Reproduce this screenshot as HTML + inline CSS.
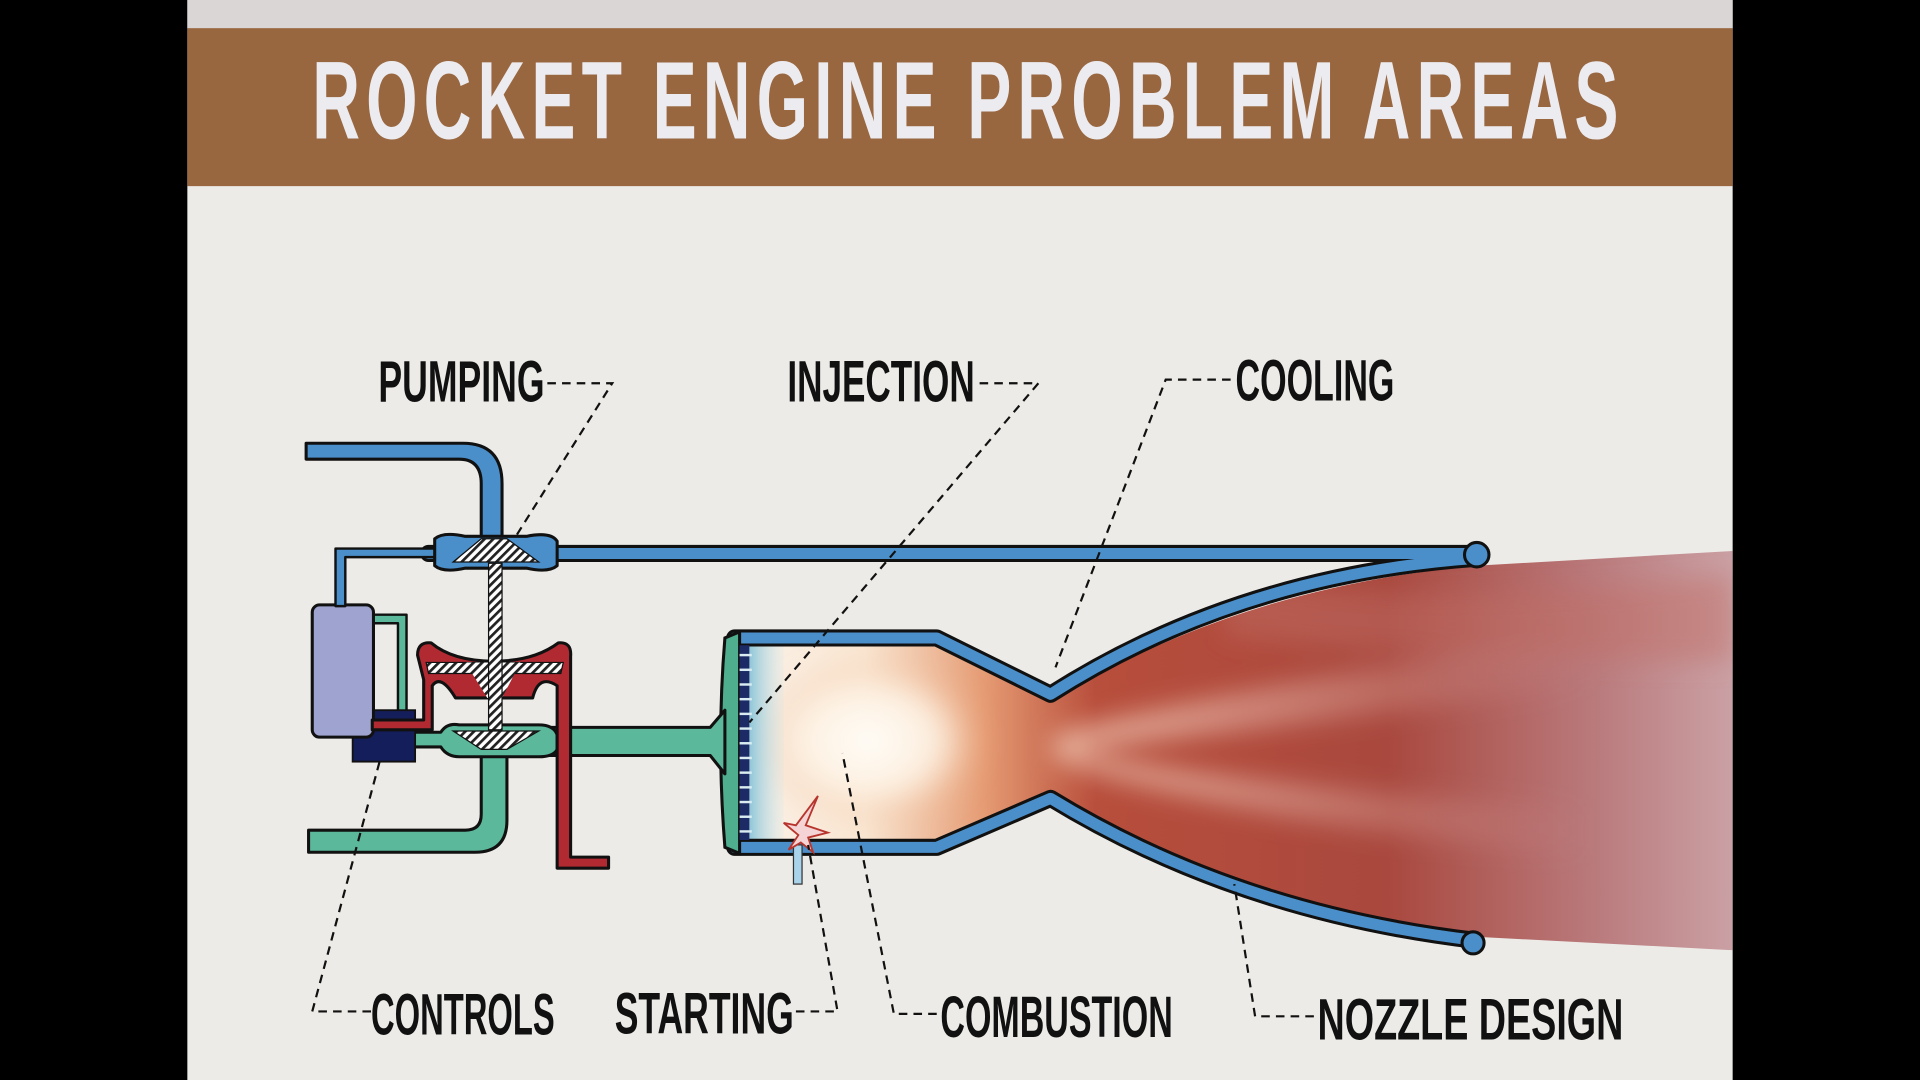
<!DOCTYPE html>
<html><head><meta charset="utf-8"><style>
html,body{margin:0;padding:0;background:#000;}
svg{display:block}
</style></head><body>
<svg width="1920" height="1080" viewBox="0 0 1568 882" xmlns="http://www.w3.org/2000/svg">
<defs>
<linearGradient id="plume" x1="0" y1="0" x2="1" y2="0">
<stop offset="0" stop-color="#fbf3ea"/>
<stop offset="0.13" stop-color="#f9e6d2"/>
<stop offset="0.25" stop-color="#e59a72"/>
<stop offset="0.36" stop-color="#b84e3c"/>
<stop offset="0.65" stop-color="#a9483e"/>
<stop offset="0.85" stop-color="#b9787a"/>
<stop offset="1" stop-color="#cba2a6"/>
</linearGradient>
<radialGradient id="core" cx="0.5" cy="0.5" r="0.5">
<stop offset="0" stop-color="#fffdf8" stop-opacity="1"/>
<stop offset="0.6" stop-color="#fdf1e2" stop-opacity="0.9"/>
<stop offset="1" stop-color="#f0b58c" stop-opacity="0"/>
</radialGradient>
<linearGradient id="streak" x1="0" y1="0" x2="1" y2="0">
<stop offset="0" stop-color="#e9b6a0" stop-opacity="0.9"/>
<stop offset="1" stop-color="#d9a0a0" stop-opacity="0"/>
</linearGradient>
<linearGradient id="spray" x1="0" y1="0" x2="1" y2="0">
<stop offset="0" stop-color="#8fc6d8"/>
<stop offset="1" stop-color="#cfe6ea" stop-opacity="0.2"/>
</linearGradient>
<pattern id="hatch" width="5" height="5" patternUnits="userSpaceOnUse" patternTransform="rotate(45)">
<rect width="5" height="5" fill="#fff"/><rect width="2.2" height="5" fill="#222"/>
</pattern>
<filter id="blur"><feGaussianBlur stdDeviation="10"/></filter>
<clipPath id="pc"><path d="M612,527 L765,527 L858,573 Q1010,480 1205,462 L1415,450 L1415,776 L1205,765 Q1010,740 858,650 L765,686 L612,686 Z"/></clipPath>
</defs>
<rect x="0" y="0" width="1568" height="882" fill="#000"/>
<rect x="153" y="0" width="1262" height="882" fill="#ecebe7"/>
<rect x="153" y="0" width="1262" height="23" fill="#d9d6d5"/>
<rect x="153" y="23" width="1262" height="129" fill="#98663f"/>
<text transform="translate(255,113) scale(0.6,1)" x="0" y="0" font-family="'Liberation Sans',sans-serif" font-weight="bold" font-size="90" fill="#ecebf0" textLength="1778" lengthAdjust="spacing">ROCKET  ENGINE  PROBLEM  AREAS</text>

<!-- plume -->
<g clip-path="url(#pc)">
<rect x="600" y="440" width="820" height="350" fill="url(#plume)"/>
<g filter="url(#blur)">
<ellipse cx="710" cy="605" rx="95" ry="70" fill="url(#core)"/>
<path d="M860,600 Q1000,560 1300,520 L1300,560 Q1000,600 860,615 Z" fill="url(#streak)"/>
<path d="M860,610 Q1000,640 1300,660 L1300,700 Q1000,670 860,620 Z" fill="url(#streak)"/>
<path d="M1000,470 Q1150,500 1415,470 L1415,540 Q1200,540 1000,520 Z" fill="#c06e66" opacity="0.45"/>
</g>
<rect x="612" y="527" width="28" height="159" fill="url(#spray)"/>
</g>

<!-- nozzle walls -->
<g fill="none" stroke-linejoin="round" stroke-linecap="round">
<path d="M600,521 L765,521 L858,567 Q1010,470 1205,456" stroke="#111" stroke-width="14"/>
<path d="M600,692 L765,692 L858,652 Q1010,745 1205,768" stroke="#111" stroke-width="14"/>
<path d="M350,452 L1205,452" stroke="#111" stroke-width="14"/>
<path d="M600,521 L765,521 L858,567 Q1010,470 1205,456" stroke="#4a8fca" stroke-width="9"/>
<path d="M600,692 L765,692 L858,652 Q1010,745 1205,768" stroke="#4a8fca" stroke-width="9"/>
<path d="M350,452 L1205,452" stroke="#4a8fca" stroke-width="9"/>
</g>
<ellipse cx="1206" cy="453" rx="10" ry="10" fill="#4a8fca" stroke="#111" stroke-width="2.5"/>
<ellipse cx="1203" cy="770" rx="9" ry="9" fill="#4a8fca" stroke="#111" stroke-width="2.5"/>

<!-- injector plate -->
<path d="M604,516 L604,697 L592,692 Q585,605 592,521 Z" fill="#4fae8e" stroke="#111" stroke-width="2.5"/>
<rect x="604" y="527" width="8" height="159" fill="#1c2a66"/>
<g stroke="#d8ecf2" stroke-width="2">
<line x1="604" y1="535" x2="614" y2="535"/><line x1="604" y1="547" x2="614" y2="547"/><line x1="604" y1="559" x2="614" y2="559"/><line x1="604" y1="571" x2="614" y2="571"/><line x1="604" y1="583" x2="614" y2="583"/><line x1="604" y1="595" x2="614" y2="595"/><line x1="604" y1="607" x2="614" y2="607"/><line x1="604" y1="619" x2="614" y2="619"/><line x1="604" y1="631" x2="614" y2="631"/><line x1="604" y1="643" x2="614" y2="643"/><line x1="604" y1="655" x2="614" y2="655"/><line x1="604" y1="667" x2="614" y2="667"/><line x1="604" y1="679" x2="614" y2="679"/>
</g>
<!-- igniter -->
<rect x="648" y="690" width="7" height="32" fill="#a8d3ea" stroke="#333" stroke-width="1"/>
<path d="M652,682 L640,672 L650,674 L668,650 L658,674 L676,680 L660,684 L664,696 L654,688 L644,694 Z" fill="#f4d4d4" stroke="#b8352e" stroke-width="1.5"/>

<!-- green system -->
<g stroke-linejoin="round">
<path d="M252,678 L380,678 Q393,678 393,665 L393,612 L414,612 L414,670 Q414,696 388,696 L252,696 Z" fill="#5bb89a" stroke="#111" stroke-width="2.5"/>
<path d="M440,594 L580,594 L592,580 L592,632 L580,617 L440,617 Z" fill="#5bb89a" stroke="#111" stroke-width="2.5"/>
<path d="M332,596 L332,502 L304,502 L304,509 L325,509 L325,598 Z" fill="#5bb89a" stroke="#111" stroke-width="2"/>
<path d="M335,598 L360,598 Q365,590 375,592 L440,592 Q452,592 455,600 L455,612 Q452,618 440,618 L375,618 Q365,618 360,610 L335,610 Z" fill="#5bb89a" stroke="#111" stroke-width="2.5"/>
</g>
<path d="M370,597 L440,597 L414,612 L393,612 Z" fill="url(#hatch)" stroke="#111" stroke-width="1"/>

<!-- navy + canister -->
<rect x="288" y="580" width="51" height="42" fill="#141e5a" stroke="#111" stroke-width="1.5"/>
<rect x="255" y="494" width="50" height="108" rx="6" fill="#9fa3cf" stroke="#111" stroke-width="2.5"/>

<!-- red system -->
<g stroke-linejoin="round">
<path d="M304,588 L346,588 L346,555 L341,535 Q341,524 352,525 Q370,540 403,540 Q436,540 456,525 Q467,524 466,536 L466,700 L497,700 L497,709 L455,709 L455,560 Q440,550 435,570 L372,570 Q360,550 353,560 L353,596 L304,596 Z" fill="#b12a32" stroke="#111" stroke-width="2.5"/>
</g>
<path d="M348,541 L460,541 L458,550 L350,550 Z" fill="url(#hatch)" stroke="#111" stroke-width="1"/>
<path d="M380,541 L425,541 L410,570 L398,570 Z" fill="url(#hatch)"/>

<!-- blue system -->
<g stroke-linejoin="round">
<path d="M250,362 L378,362 Q410,362 410,395 L410,440 L393,440 L393,395 Q393,375 375,375 L250,375 Z" fill="#4a8fca" stroke="#111" stroke-width="2.5"/>
<path d="M274,495 L274,448 L355,448 L355,455 L282,455 L282,495 Z" fill="#4a8fca" stroke="#111" stroke-width="2"/>
<path d="M355,440 Q362,434 380,438 L430,438 Q450,434 455,442 L455,462 Q448,468 430,464 L380,464 Q362,468 355,462 Z" fill="#4a8fca" stroke="#111" stroke-width="2.5"/>
</g>
<path d="M370,459 L440,459 L414,440 L393,440 Z" fill="url(#hatch)" stroke="#111" stroke-width="1"/>
<rect x="399" y="460" width="11" height="136" fill="url(#hatch)" stroke="#111" stroke-width="1"/>

<!-- leaders -->
<g fill="none" stroke="#111" stroke-width="1.8" stroke-dasharray="7,5">
<path d="M447,313 L500,313 L420,440"/>
<path d="M800,313 L848,313 L612,590"/>
<path d="M1005,310 L952,310 L862,545"/>
<path d="M303,826 L255,826 L310,622"/>
<path d="M650,826 L684,826 L660,690"/>
<path d="M765,828 L730,828 L688,615"/>
<path d="M1073,830 L1025,830 L1008,722"/>
</g>

<g font-family="'Liberation Sans',sans-serif" font-weight="bold" font-size="48" fill="#111">
<text transform="translate(309,328) scale(0.75,1)" textLength="181" lengthAdjust="spacingAndGlyphs">PUMPING</text>
<text transform="translate(643,328) scale(0.75,1)" textLength="204" lengthAdjust="spacingAndGlyphs">INJECTION</text>
<text transform="translate(1009,327) scale(0.75,1)" textLength="173" lengthAdjust="spacingAndGlyphs">COOLING</text>
<text transform="translate(303,845) scale(0.75,1)" textLength="200" lengthAdjust="spacingAndGlyphs">CONTROLS</text>
<text transform="translate(502,844) scale(0.75,1)" textLength="195" lengthAdjust="spacingAndGlyphs">STARTING</text>
<text transform="translate(768,847) scale(0.75,1)" textLength="253" lengthAdjust="spacingAndGlyphs">COMBUSTION</text>
<text transform="translate(1076,849) scale(0.75,1)" textLength="333" lengthAdjust="spacingAndGlyphs">NOZZLE  DESIGN</text>
</g>
</svg>
</body></html>
